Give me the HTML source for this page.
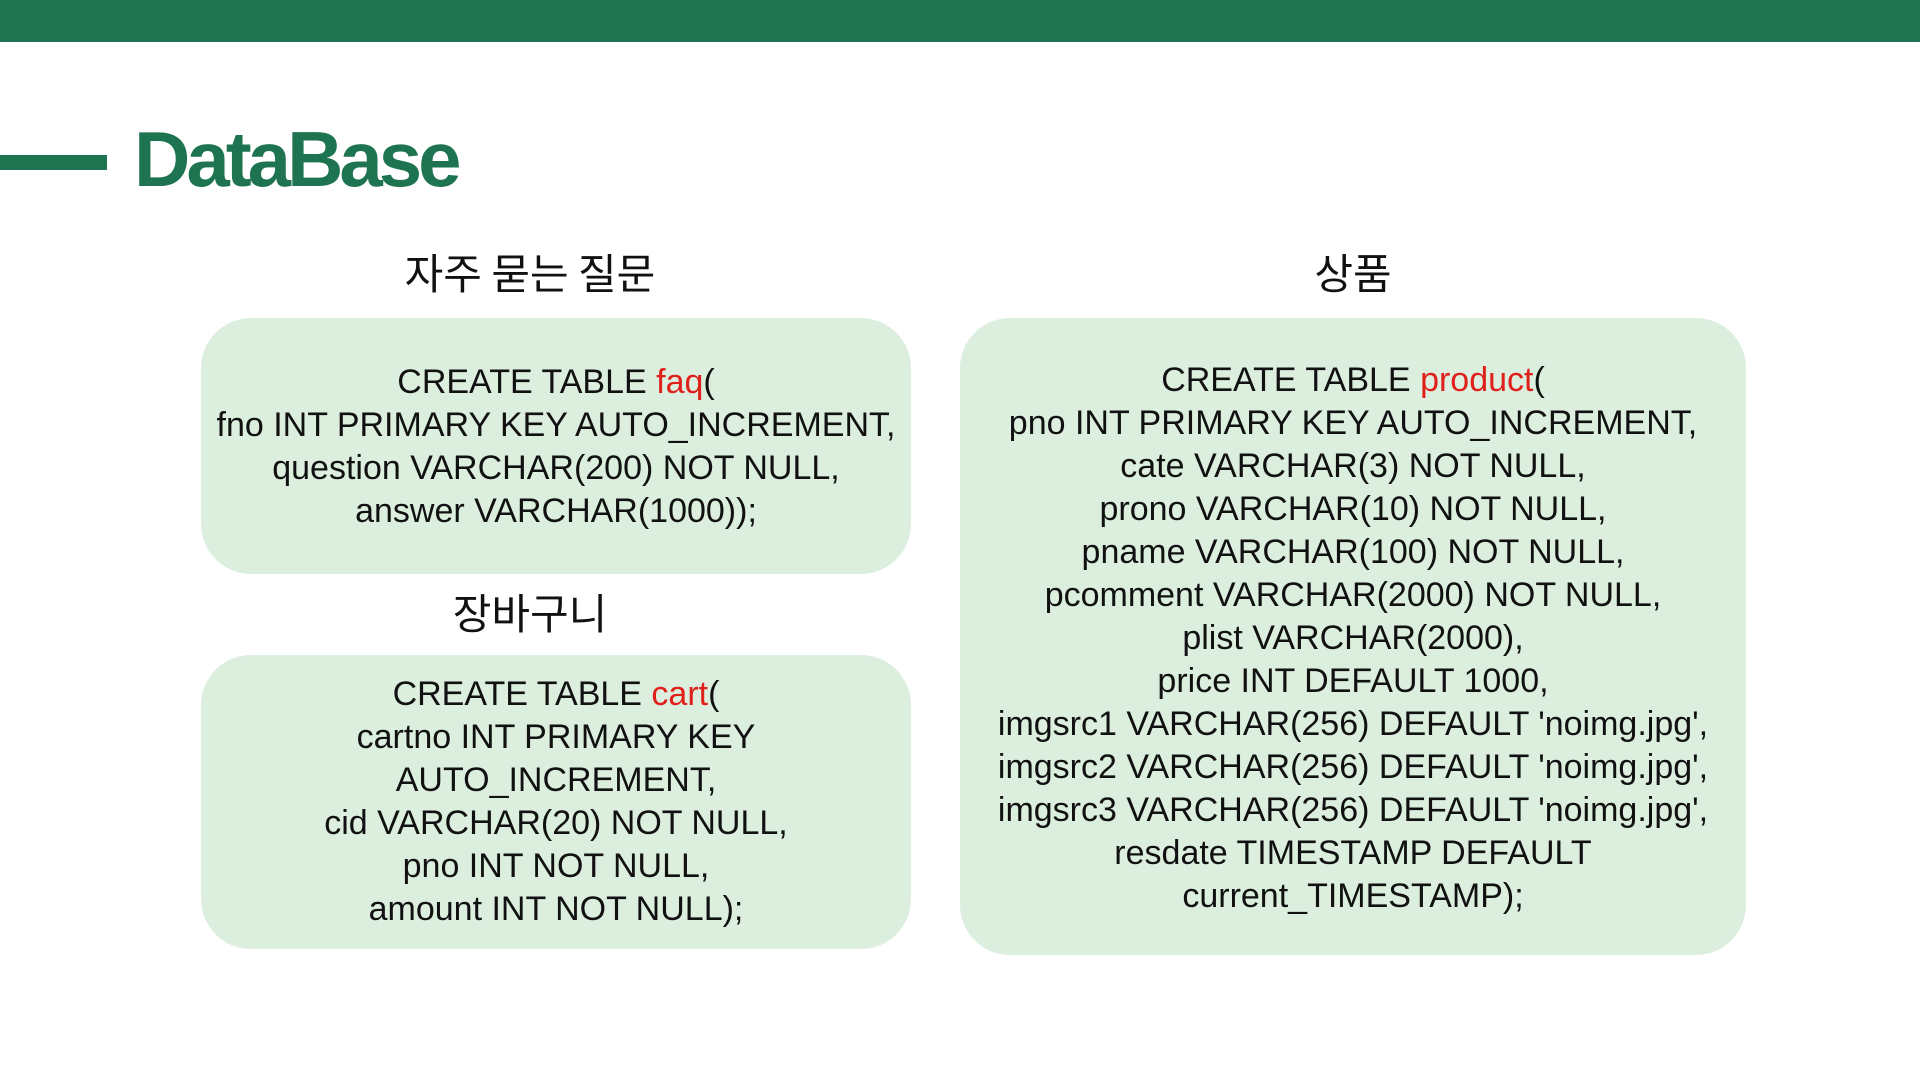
<!DOCTYPE html>
<html><head><meta charset="utf-8"><style>
html,body{margin:0;padding:0;width:1920px;height:1080px;background:#fff;overflow:hidden;position:relative;font-family:"Liberation Sans","Noto Sans CJK KR",sans-serif}
.bar{position:absolute;left:0;top:0;width:1920px;height:42px;background:#1e7350}
.dash{position:absolute;left:0;top:155px;width:107px;height:15px;background:#1e7350}
.title{position:absolute;left:134px;top:114px;font-size:78px;font-weight:bold;color:#1e7350;letter-spacing:-4px;line-height:90px}
.h{position:absolute;font-size:42px;color:#111;transform:translateX(-50%);white-space:nowrap;font-family:"Noto Sans CJK KR",sans-serif;line-height:50px}
.box{position:absolute;background:#dcefdf;border-radius:50px}
.code{position:absolute;left:0;right:0;text-align:center;font-size:34px;color:#111;line-height:43px;white-space:nowrap}
.r{color:#e0201b}
</style></head><body>
<div class="bar"></div>
<div class="dash"></div>
<div class="title">DataBase</div>

<div class="h" style="left:530px;top:247px">자주 묻는 질문</div>
<div class="h" style="left:530px;top:587px">장바구니</div>
<div class="h" style="left:1353px;top:247px">상품</div>

<div class="box" style="left:201px;top:318px;width:710px;height:256px">
<div class="code" style="top:43px">CREATE TABLE <span class="r">faq</span>(<br>fno INT PRIMARY KEY AUTO_INCREMENT,<br>question VARCHAR(200) NOT NULL,<br>answer VARCHAR(1000));</div>
</div>

<div class="box" style="left:201px;top:655px;width:710px;height:294px">
<div class="code" style="top:18px">CREATE TABLE <span class="r">cart</span>(<br>cartno INT PRIMARY KEY<br>AUTO_INCREMENT,<br>cid VARCHAR(20) NOT NULL,<br>pno INT NOT NULL,<br>amount INT NOT NULL);</div>
</div>

<div class="box" style="left:960px;top:318px;width:786px;height:637px">
<div class="code" style="top:41px">CREATE TABLE <span class="r">product</span>(<br>pno INT PRIMARY KEY AUTO_INCREMENT,<br>cate VARCHAR(3) NOT NULL,<br>prono VARCHAR(10) NOT NULL,<br>pname VARCHAR(100) NOT NULL,<br>pcomment VARCHAR(2000) NOT NULL,<br>plist VARCHAR(2000),<br>price INT DEFAULT 1000,<br>imgsrc1 VARCHAR(256) DEFAULT 'noimg.jpg',<br>imgsrc2 VARCHAR(256) DEFAULT 'noimg.jpg',<br>imgsrc3 VARCHAR(256) DEFAULT 'noimg.jpg',<br>resdate TIMESTAMP DEFAULT<br>current_TIMESTAMP);</div>
</div>
</body></html>
